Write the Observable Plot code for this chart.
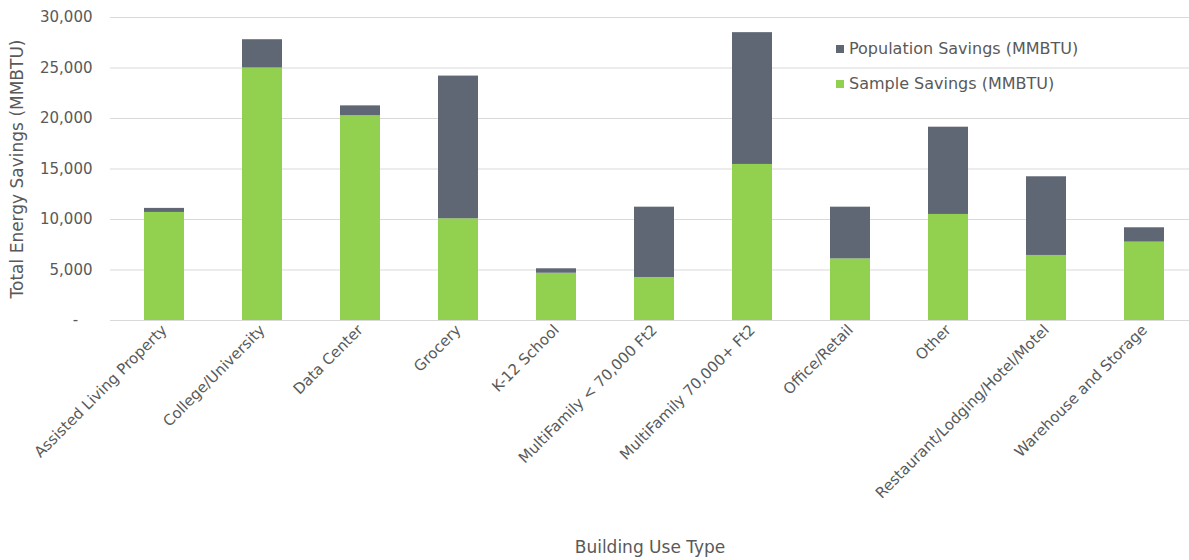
<!DOCTYPE html>
<html>
<head>
<meta charset="utf-8">
<script src="https://cdn.jsdelivr.net/npm/d3@7"></script>
<script src="https://cdn.jsdelivr.net/npm/@observablehq/plot@0.6"></script>
<style>
  html, body { margin: 0; padding: 0; background: #fff; }
  #wrap { position: relative; width: 1189px; height: 560px; }
  #legend { position: absolute; left: 836px; top: 31px; font-family: "DejaVu Sans", sans-serif; font-size: 16px; color: #595959; }
  #legend div { display: flex; align-items: center; height: 35px; }
  #legend span.sw { display: inline-block; width: 8px; height: 8px; margin-right: 5px; }
</style>
</head>
<body>
<div id="wrap"><div id="legend"></div></div>
<script>
const categories = ["Assisted Living Property", "College/University", "Data Center", "Grocery", "K-12 School",
  "MultiFamily < 70,000 Ft2", "MultiFamily 70,000+ Ft2", "Office/Retail", "Other",
  "Restaurant/Lodging/Hotel/Motel", "Warehouse and Storage"];
const sampleSavings =     [10700, 25000, 20270, 10070, 4680, 4260, 15450, 6100, 10500, 6440, 7760];
const populationSavings = [400,   2800,  980,   14130, 440,  6960, 13050, 5120, 8640,  7790, 1420];
const seriesNames = ["Population Savings (MMBTU)", "Sample Savings (MMBTU)"];
const seriesColors = ["#5f6674", "#92d050"];
const yTicks = [0, 5000, 10000, 15000, 20000, 25000, 30000];

const rows = [];
categories.forEach((c, i) => {
  rows.push({cat: c, series: seriesNames[1], value: sampleSavings[i]});
  rows.push({cat: c, series: seriesNames[0], value: populationSavings[i]});
});

const fmt = d3.format(",");
const chart = Plot.plot({
  width: 1189,
  height: 560,
  marginLeft: 110,
  marginRight: 0,
  marginTop: 17,
  marginBottom: 240,
  style: {fontFamily: "DejaVu Sans, sans-serif", fontSize: "15px", color: "#595959", background: "white"},
  x: {domain: categories, range: [110.6, 1197], paddingInner: 0.595, paddingOuter: 0.2975},
  y: {domain: [0, 30000]},
  color: {domain: seriesNames, range: seriesColors},
  marks: [
    Plot.gridY(yTicks, {stroke: "#d9d9d9", strokeOpacity: 1, strokeWidth: 1}),
    Plot.barY(rows, {x: "cat", y: "value", fill: "series"}),
    Plot.axisY(yTicks, {tickSize: 0, tickPadding: 18, tickFormat: d => d === 0 ? "-   " : fmt(d), fontSize: 15,
      label: null}),
    Plot.axisY({tickSize: 0, ticks: [], label: "Total Energy Savings (MMBTU)", labelAnchor: "center",
      labelArrow: "none", labelOffset: 100, fontSize: 17}),
    Plot.axisX({tickSize: 0, tickRotate: -45, tickPadding: 7, fontSize: 15, label: null}),
    Plot.axisX({tickSize: 0, ticks: [], label: "Building Use Type", labelAnchor: "center",
      labelArrow: "none", labelOffset: 232, fontSize: 17})
  ]
});
document.getElementById("wrap").prepend(chart);

const legend = document.getElementById("legend");
seriesNames.forEach((s, i) => {
  const row = document.createElement("div");
  row.innerHTML = `<span class="sw" style="background:${seriesColors[i]}"></span>${s}`;
  legend.appendChild(row);
});
</script>
</body>
</html>
